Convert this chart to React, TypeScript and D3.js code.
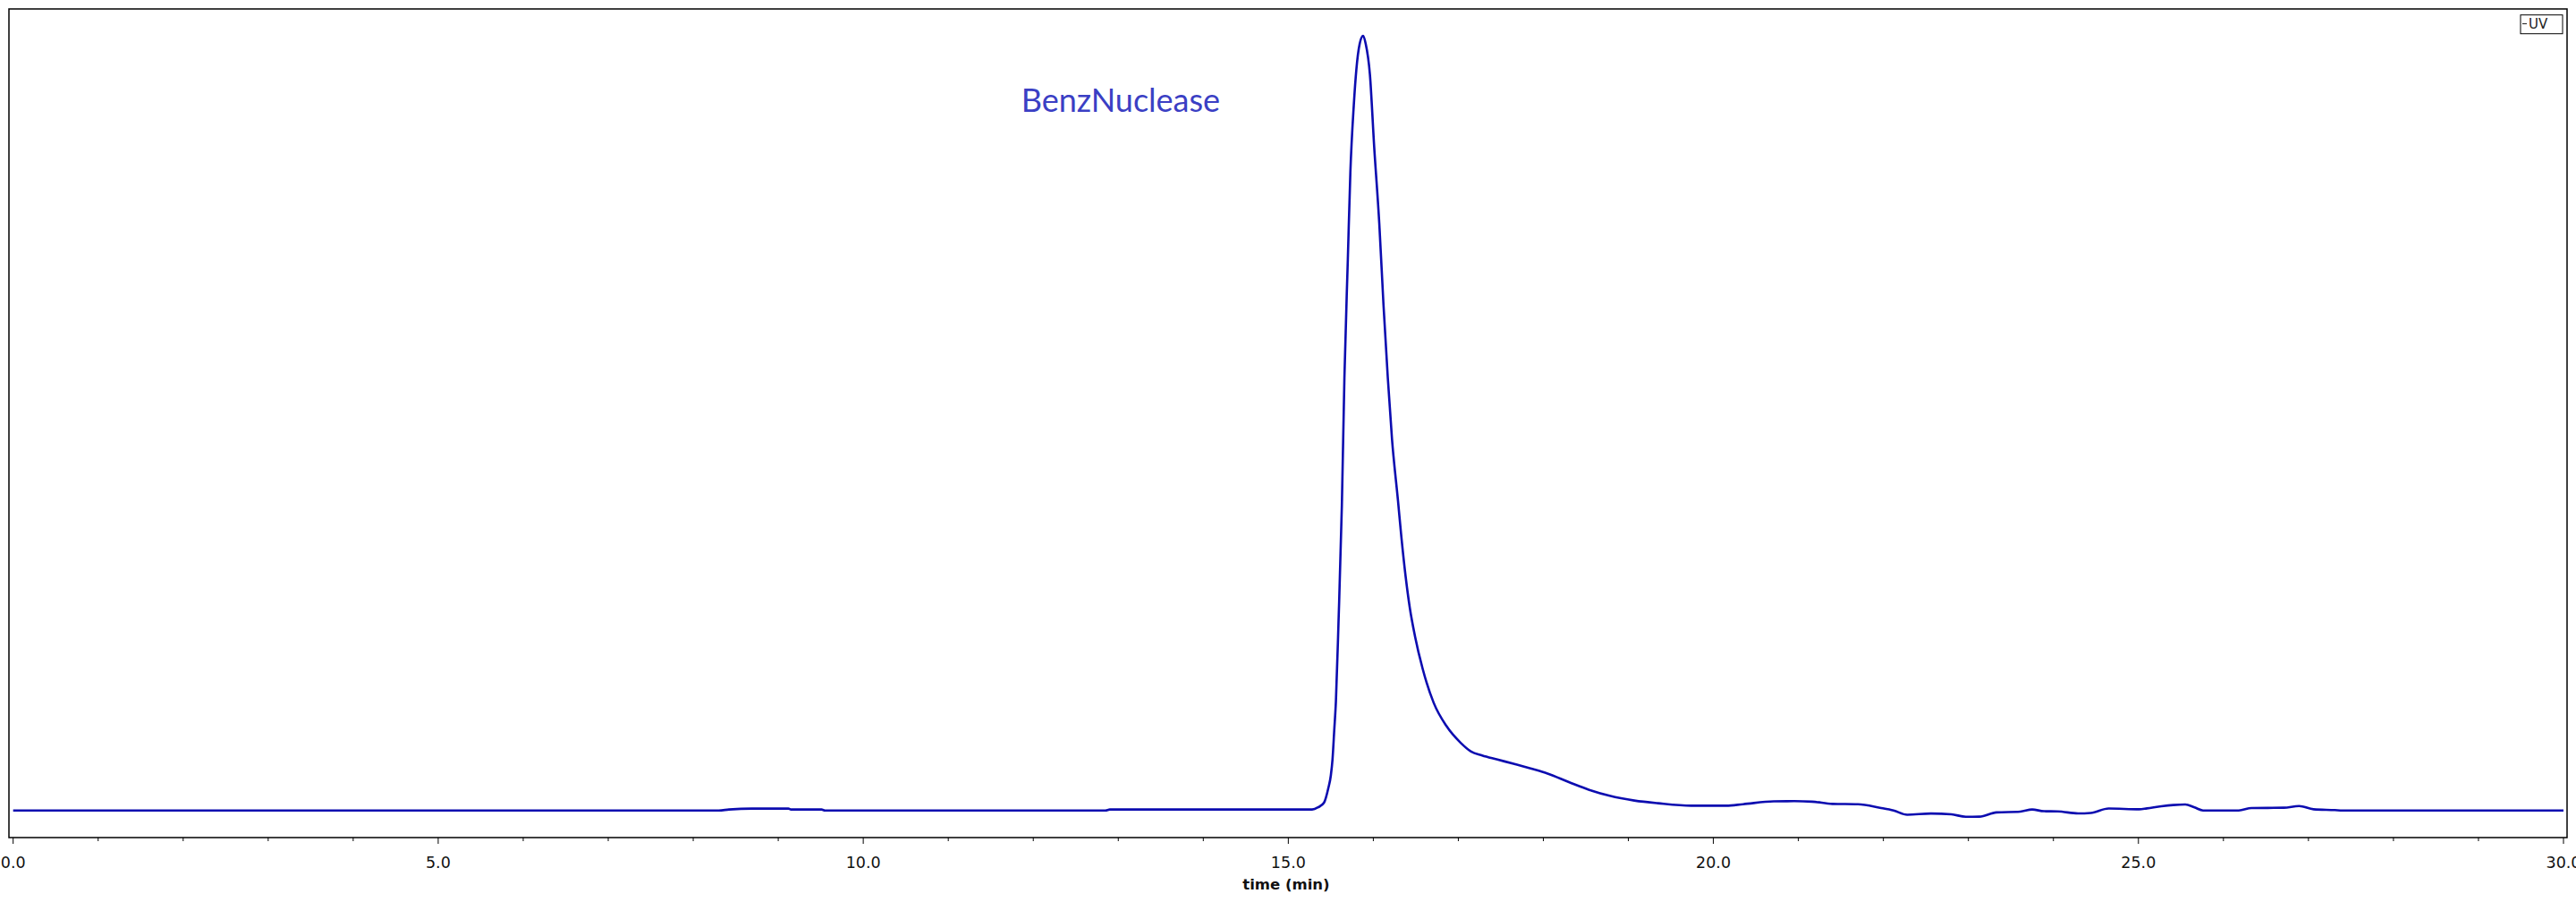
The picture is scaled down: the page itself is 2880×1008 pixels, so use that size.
import React from "react";
import * as d3 from "d3";

// ---- data ----
const timeMin: number[] = [
  0, 8.3, 8.42, 8.69, 9.12, 9.15, 9.51, 9.55, 12.85, 12.9, 15.28, 15.35, 15.42, 15.47, 15.5,
  15.52, 15.54, 15.56, 15.59, 15.63, 15.66, 15.7, 15.73, 15.77, 15.8, 15.84, 15.88, 15.91,
  15.96, 16.01, 16.07, 16.12, 16.17, 16.22, 16.29, 16.33, 16.38, 16.43, 16.49, 16.58, 16.71,
  16.86, 17.03, 17.15, 17.28, 17.45, 17.66, 17.89, 18.05, 18.3, 18.54, 18.78, 19.07, 19.35,
  19.74, 20.15, 20.35, 20.71, 20.95, 21.16, 21.4, 21.7, 21.96, 22.12, 22.28, 22.56, 22.8,
  22.97, 23.13, 23.33, 23.61, 23.75, 23.89, 24.05, 24.29, 24.44, 24.65, 25.01, 25.1, 25.27,
  25.41, 25.55, 25.66, 25.76, 26.18, 26.33, 26.71, 26.89, 27.06, 27.31, 27.4, 30,
];
const uvSignal: number[] = [
  0, 0, 0.12, 0.24, 0.24, 0.12, 0.12, 0, 0, 0.12, 0.12, 0.4, 1.0, 2.85, 4.5,
  6.6, 10.3, 14.1, 24.1, 39.4, 55.9, 71.1, 82.4, 91.0, 95.6, 99.0, 100, 99.0,
  95.0, 85.7, 75.8, 65.2, 55.9, 47.9, 40.0, 35.3, 30.2, 26.1, 22.5, 18.3, 13.9,
  10.9, 8.7, 7.6, 7.1, 6.6, 6.0, 5.3, 4.75, 3.66, 2.66, 1.89, 1.28, 0.93,
  0.62, 0.62, 0.81, 1.18, 1.2, 1.14, 0.85, 0.8, 0.35, 0.0, -0.55, -0.4, -0.5,
  -0.82, -0.8, -0.25, -0.15, 0.12, -0.1, -0.12, -0.38, -0.32, 0.25, 0.15, 0.27, 0.54,
  0.7, 0.77, 0.39, 0, 0, 0.31, 0.35, 0.58, 0.15, 0.05, 0, 0,
];
const tickValues: number[] = d3.range(0, 31, 1);
const labelValues: number[] = [0, 5, 10, 15, 20, 25, 30];
const peakLabel = "BenzNuclease";
const legendLabel = "UV";
const xTitle = "time (min)";

export default function App() {
  const W = 2880;
  const H = 1008;
  const frame = { left: 10, top: 10, right: 2870, bottom: 936 };
  const x = d3.scaleLinear().domain([0, 30]).range([14.7, 2866]);
  const y = d3.scaleLinear().domain([0, 100]).range([905.7, 40]);
  const pts = timeMin.map((t, i) => [t, uvSignal[i]] as [number, number]);
  const line = d3
    .line<[number, number]>()
    .x((d) => x(d[0]))
    .y((d) => y(d[1]))
    .curve(d3.curveMonotoneX);
  const fmt = d3.format(".1f");

  return (
    <svg
      width={W}
      height={H}
      style={{ position: "absolute", left: 0, top: 0, background: "#fff" }}
      fontFamily="'DejaVu Sans', Verdana, sans-serif"
    >
      <rect x={0} y={0} width={W} height={H} fill="#fff" />
      {/* frame */}
      <rect
        x={frame.left}
        y={frame.top}
        width={frame.right - frame.left}
        height={frame.bottom - frame.top}
        fill="none"
        stroke="#000"
        strokeWidth={1.5}
      />
      {/* ticks */}
      {tickValues.map((t) => {
        const major = labelValues.includes(t);
        return (
          <line
            key={t}
            x1={x(t)}
            x2={x(t)}
            y1={frame.bottom}
            y2={frame.bottom + (major ? 7 : 4)}
            stroke="#000"
            strokeWidth={1}
          />
        );
      })}
      {labelValues.map((t) => (
        <text key={t} x={x(t)} y={970} fontSize={17.5} textAnchor="middle" fill="#111">
          {fmt(t)}
        </text>
      ))}
      <text x={1438} y={994} fontSize={16.5} fontWeight="bold" textAnchor="middle" fill="#111">
        {xTitle}
      </text>
      {/* trace */}
      <path d={line(pts) ?? ""} fill="none" stroke="#0c0cb0" strokeWidth={2.6} strokeLinejoin="round" />
      {/* peak label */}
      <text x={1141.7} y={125} fontSize={36} fill="#3b3fc4" fontFamily="Lato, 'Open Sans', sans-serif">
        {peakLabel}
      </text>
      {/* legend */}
      <rect x={2818} y={16.7} width={47} height={21} fill="#fff" stroke="#000" strokeWidth={1} />
      <line x1={2820} x2={2825} y1={26.5} y2={26.5} stroke="#333" strokeWidth={1.2} />
      <text x={2827} y={32} fontSize={15} fill="#222">
        {legendLabel}
      </text>
    </svg>
  );
}
